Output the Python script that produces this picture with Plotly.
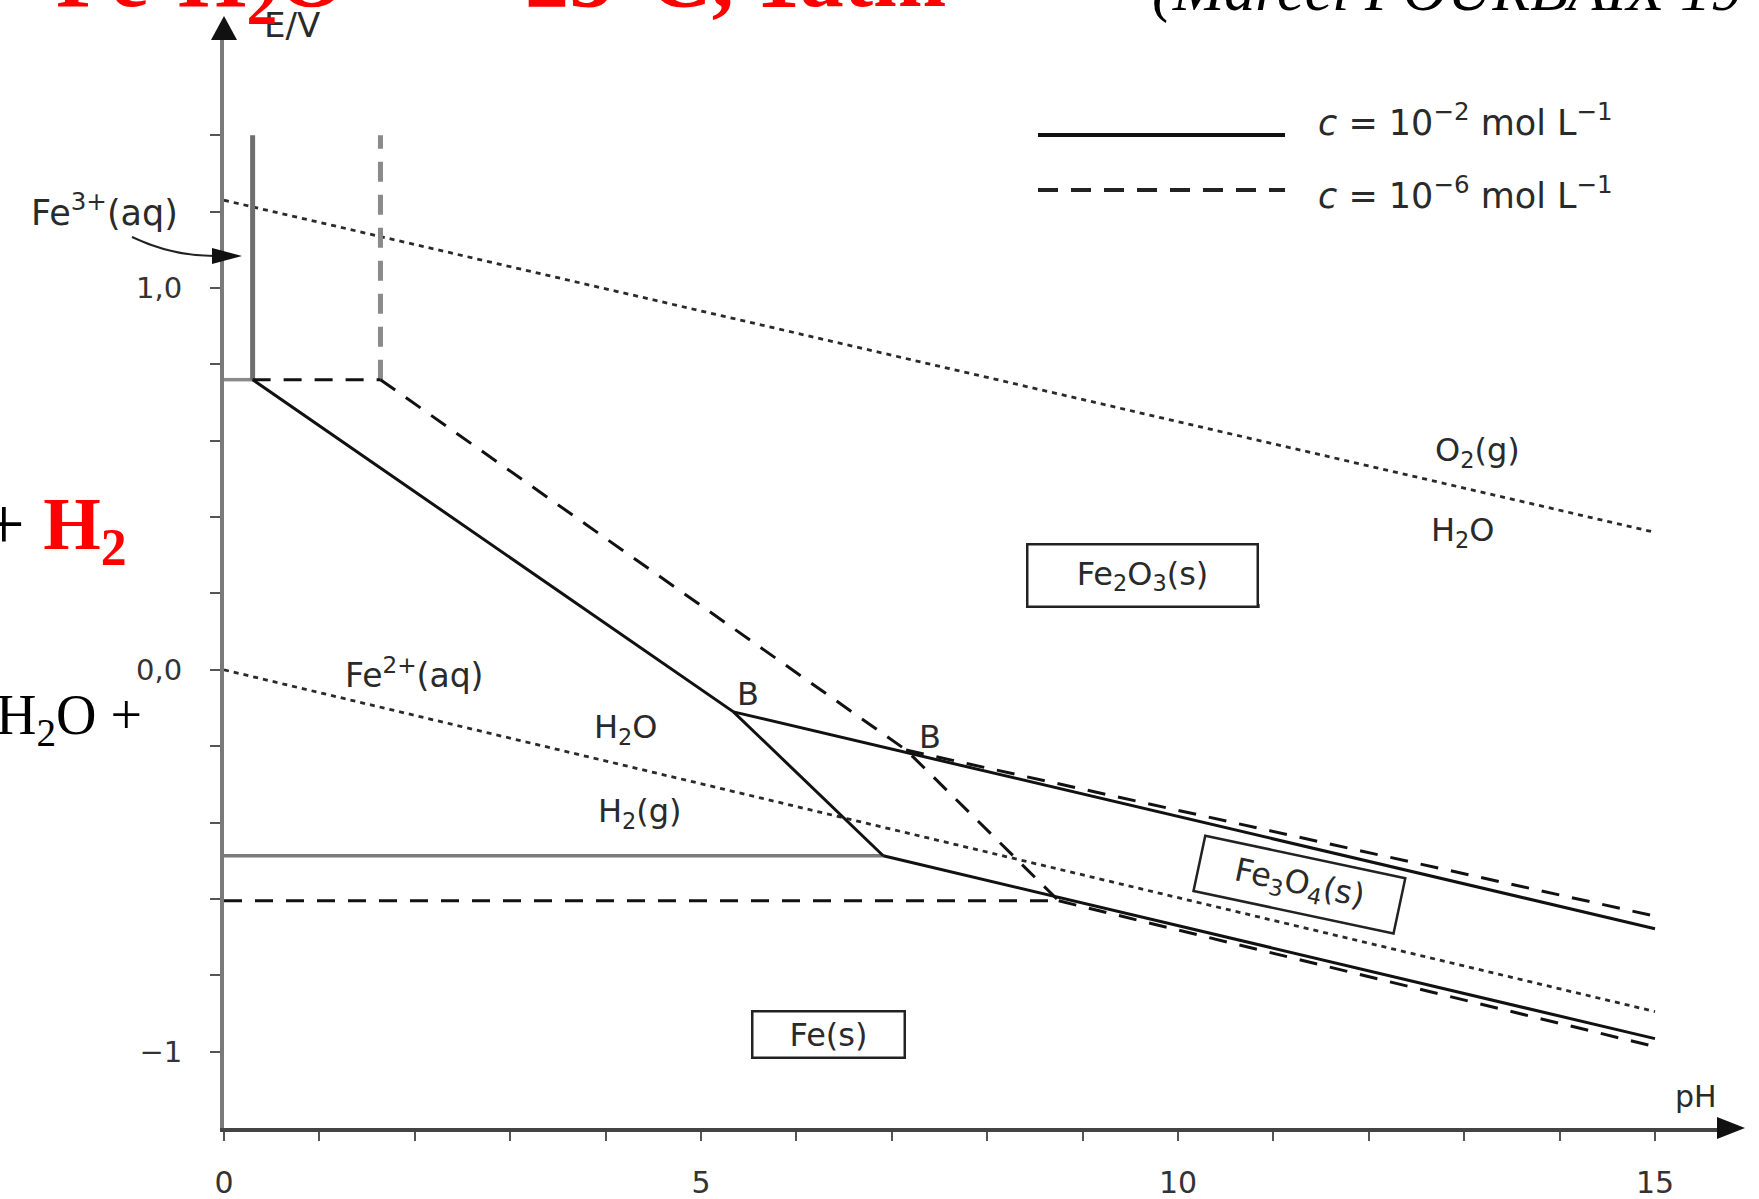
import plotly.graph_objects as go

W, H = 1759, 1199

# ---------------- data (pH , E / V) ----------------
# c = 1e-2 mol/L  (solid lines)
ph_s_fe2_oxides = [0.30, 5.34, 6.91]
e_s_fe2_oxides = [0.76, -0.11, -0.487]
ph_s_fe2o3_fe3o4 = [5.34, 15.0]
e_s_fe2o3_fe3o4 = [-0.11, -0.678]
ph_s_fe3o4_fe = [6.91, 15.0]
e_s_fe3o4_fe = [-0.487, -0.966]
ph_s_fe2_fe = [0.0, 6.91]
e_s_fe2_fe = [-0.487, -0.487]
ph_s_fe3_fe2o3 = [0.30, 0.30]
e_s_fe3_fe2o3 = [0.76, 1.40]
ph_s_fe3_fe2 = [0.0, 0.30]
e_s_fe3_fe2 = [0.76, 0.76]

# c = 1e-6 mol/L  (dashed lines)
ph_d_fe3_fe2 = [0.30, 1.64]
e_d_fe3_fe2 = [0.76, 0.76]
ph_d_fe3_fe2o3 = [1.64, 1.64]
e_d_fe3_fe2o3 = [0.76, 1.40]
ph_d_fe2_oxides = [1.64, 7.15, 8.75]
e_d_fe2_oxides = [0.76, -0.21, -0.605]
ph_d_fe2o3_fe3o4 = [7.15, 15.0]
e_d_fe2o3_fe3o4 = [-0.21, -0.645]
ph_d_fe2_fe = [0.0, 8.75]
e_d_fe2_fe = [-0.605, -0.605]
ph_d_fe3o4_fe = [8.75, 15.0]
e_d_fe3o4_fe = [-0.605, -0.987]

# water stability lines (dotted)
ph_water = [0.0, 15.0]
e_o2_h2o = [1.23, 0.36]
e_h2o_h2 = [0.0, -0.895]

# ticks
x_tickvals = [0, 5, 10, 15]
x_ticktext = ["0", "5", "10", "15"]
x_minorvals = [1, 2, 3, 4, 6, 7, 8, 9, 11, 12, 13, 14]
y_tickvals = [-1.0, 0.0, 1.0]
y_ticktext = ["\u22121", "0,0", "1,0"]
y_minorvals = [-0.8, -0.6, -0.4, -0.2, 0.2, 0.4, 0.6, 0.8, 1.2, 1.4]

# ---------------- geometry helpers (pixels -> paper) ----------------
X_PH0, PX_PER_PH = 224, 95.4
Y_EMIN, PX_PER_V = 1128, 381.8
X_END, Y_TOP = 1722, 38


def px(x):
    return x / W


def py(y):
    return 1 - y / H


fig = go.Figure()

LBL = dict(family="DejaVu Sans", size=32, color="#2a2a2a")


def add_line(x, y, color, width, dash=None):
    fig.add_trace(go.Scatter(x=x, y=y, mode="lines",
                             line=dict(color=color, width=width, dash=dash),
                             showlegend=False, hoverinfo="skip"))


# water lines
add_line(ph_water, e_o2_h2o, "#2a2a2a", 2.8, "5px,5px")
add_line(ph_water, e_h2o_h2, "#2a2a2a", 2.8, "5px,5px")
# gray lines
add_line(ph_s_fe2_fe, e_s_fe2_fe, "#7a7a7a", 3.5)
add_line(ph_s_fe3_fe2, e_s_fe3_fe2, "#8a8a8a", 3.5)
add_line(ph_s_fe3_fe2o3, e_s_fe3_fe2o3, "#6e6e6e", 5)
add_line(ph_d_fe3_fe2o3, e_d_fe3_fe2o3, "#8a8a8a", 5, "20px,13px")
# dashed black
for xs, ys in [(ph_d_fe3_fe2, e_d_fe3_fe2), (ph_d_fe2_oxides, e_d_fe2_oxides),
               (ph_d_fe2o3_fe3o4, e_d_fe2o3_fe3o4), (ph_d_fe2_fe, e_d_fe2_fe),
               (ph_d_fe3o4_fe, e_d_fe3o4_fe)]:
    add_line(xs, ys, "#111111", 3, "18px,13px")
# solid black
for xs, ys in [(ph_s_fe2_oxides, e_s_fe2_oxides), (ph_s_fe2o3_fe3o4, e_s_fe2o3_fe3o4),
               (ph_s_fe3o4_fe, e_s_fe3o4_fe)]:
    add_line(xs, ys, "#111111", 3)

x_max = (X_END - X_PH0) / PX_PER_PH
y_max = -1.2 + (Y_EMIN - Y_TOP) / PX_PER_V

fig.update_layout(
    width=W, height=H, margin=dict(l=0, r=0, t=0, b=0, pad=0, autoexpand=False),
    paper_bgcolor="white", plot_bgcolor="white", showlegend=False,
    xaxis=dict(domain=[px(X_PH0), px(X_END)], range=[0, x_max], automargin=False,
               showgrid=False, zeroline=False, showline=True,
               linecolor="#444444", linewidth=4,
               ticks="outside", ticklen=9, tickwidth=2, tickcolor="#555555",
               tickmode="array", tickvals=x_tickvals, ticktext=x_ticktext,
               tickfont=dict(family="DejaVu Sans", size=30, color="#333333"),
               ticklabelstandoff=16,
               minor=dict(tickmode="array", tickvals=x_minorvals, ticks="outside",
                          ticklen=9, tickwidth=2, tickcolor="#555555"),
               fixedrange=True),
    yaxis=dict(domain=[py(Y_EMIN), py(Y_TOP)], range=[-1.2, y_max], automargin=False,
               showgrid=False, zeroline=False, showline=True,
               linecolor="#7a7a7a", linewidth=4,
               ticks="outside", ticklen=10, tickwidth=2, tickcolor="#555555",
               tickmode="array", tickvals=y_tickvals, ticktext=y_ticktext,
               tickfont=dict(family="DejaVu Sans", size=29, color="#333333"),
               ticklabelstandoff=22,
               minor=dict(tickmode="array", tickvals=y_minorvals, ticks="outside",
                          ticklen=10, tickwidth=2, tickcolor="#555555"),
               fixedrange=True),
)

shapes = []
# axis arrowheads
shapes.append(dict(type="path", xref="paper", yref="paper",
                   path=f"M {px(224)} {py(16)} L {px(211)} {py(40)} L {px(237)} {py(40)} Z",
                   fillcolor="#111111", line=dict(width=0)))
shapes.append(dict(type="path", xref="paper", yref="paper",
                   path=f"M {px(1745)} {py(1128)} L {px(1717)} {py(1117)} L {px(1717)} {py(1139)} Z",
                   fillcolor="#111111", line=dict(width=0)))
# Fe3+ curved pointer
shapes.append(dict(type="path", xref="paper", yref="paper",
                   path=f"M {px(132)} {py(237)} Q {px(172)} {py(256)} {px(214)} {py(256)}",
                   line=dict(color="#222222", width=2)))
shapes.append(dict(type="path", xref="paper", yref="paper",
                   path=f"M {px(242)} {py(256)} L {px(212)} {py(248)} L {px(212)} {py(264)} Z",
                   fillcolor="#111111", line=dict(width=0)))
# legend samples
shapes.append(dict(type="line", xref="paper", yref="paper",
                   x0=px(1038), x1=px(1285), y0=py(135), y1=py(135),
                   line=dict(color="#111111", width=4)))
shapes.append(dict(type="line", xref="paper", yref="paper",
                   x0=px(1038), x1=px(1285), y0=py(190), y1=py(190),
                   line=dict(color="#222222", width=4, dash="20px,13px")))
# thicker bottom edges of the boxes
shapes.append(dict(type="line", xref="paper", yref="paper",
                   x0=px(1027), x1=px(1260), y0=py(606), y1=py(606),
                   line=dict(color="#666666", width=4)))
shapes.append(dict(type="line", xref="paper", yref="paper",
                   x0=px(752), x1=px(906), y0=py(1057), y1=py(1057),
                   line=dict(color="#333333", width=4)))
fig.update_layout(shapes=shapes)

ann = []


def lab(text, x, y, size=32, **kw):
    d = dict(text=text, x=x, y=y, xref="x", yref="y", showarrow=False,
             xanchor="center", yanchor="middle", font=dict(LBL, size=size))
    d.update(kw)
    ann.append(d)


def plab(text, x, y, size=32, **kw):
    d = dict(text=text, x=px(x), y=py(y), xref="paper", yref="paper", showarrow=False,
             xanchor="center", yanchor="middle", font=dict(LBL, size=size))
    d.update(kw)
    ann.append(d)


lab("Fe<sup>2+</sup>(aq)", 1.99, -0.01, size=33)
lab("H<sub>2</sub>O", 4.21, -0.155)
lab("H<sub>2</sub>(g)", 4.36, -0.375)
lab("B", 5.49, -0.063)
lab("B", 7.40, -0.176)
lab("O<sub>2</sub>(g)", 13.14, 0.571)
lab("H<sub>2</sub>O", 12.99, 0.361)
lab("pH", 15.43, -1.118, size=30)
lab("Fe<sub>2</sub>O<sub>3</sub>(s)", 9.63, 0.248, width=226, height=58,
    bordercolor="#222222", borderwidth=2.5, borderpad=1, bgcolor="white")
lab("Fe(s)", 6.34, -0.954, width=148, height=42,
    bordercolor="#222222", borderwidth=2.5, borderpad=1, bgcolor="white")
lab("Fe<sub>3</sub>O<sub>4</sub>(s)", 11.27, -0.561, width=200, height=52, textangle=12,
    bordercolor="#222222", borderwidth=2.5, borderpad=1)

plab("E/V", 292, 25, size=34)
plab("Fe<sup>3+</sup>(aq)", 104, 210, size=35)
plab("<i>c</i> = 10<sup>\u22122</sup> mol L<sup>\u22121</sup>", 1316, 120, size=35, xanchor="left")
plab("<i>c</i> = 10<sup>\u22126</sup> mol L<sup>\u22121</sup>", 1316, 193, size=35, xanchor="left")

# slide overlay texts
SERIF = "Liberation Serif"
plab("Fe-H<sub>2</sub>O", 54, -74, xanchor="left", yanchor="top",
     font=dict(family=SERIF, size=88, color="#ff0000", weight="bold"))
plab("25\u00b0C, 1atm", 523, -74, xanchor="left", yanchor="top",
     font=dict(family=SERIF, size=88, color="#ff0000", weight="bold"))
plab("<i>(Marcel POURBAIX 19</i>", 1150, -47, xanchor="left", yanchor="top",
     font=dict(family=SERIF, size=62, color="#000000"))
plab("<span style='color:#000000;font-weight:normal'>+</span> <b>H<sub>2</sub></b>", -19, 481,
     xanchor="left", yanchor="top", font=dict(family=SERIF, size=74, color="#ff0000"))
plab("H<sub>2</sub>O +", -6, 682, xanchor="left", yanchor="top",
     font=dict(family=SERIF, size=56, color="#000000"))

fig.update_layout(annotations=ann)
fig.write_html("out.html", config={"displayModeBar": False},
               post_script="document.body.style.margin='0px';document.body.style.padding='0px';")
